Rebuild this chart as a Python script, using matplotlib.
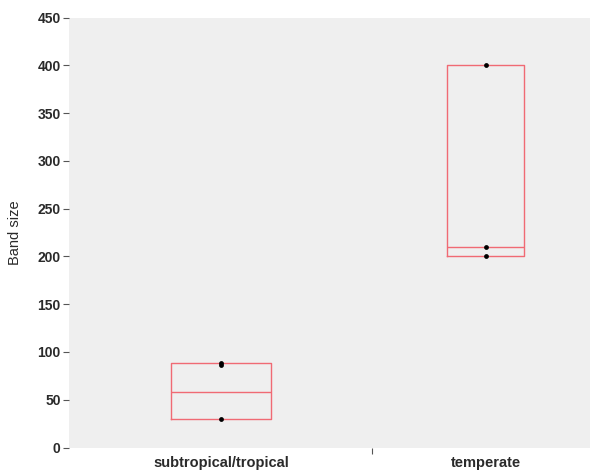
import matplotlib
matplotlib.use('Agg')
import matplotlib.pyplot as plt

plt.rcParams['font.family'] = ['Liberation Sans', 'DejaVu Sans']

categories = ['subtropical/tropical', 'temperate']
box_low = [30, 200]
box_med = [58, 210]
box_high = [88, 400]
points = [[30, 86, 88], [200, 210, 400]]

positions = [1, 2]
widths = [0.378, 0.291]
box_color = '#f06a74'

fig = plt.figure(figsize=(5.9, 4.73), dpi=100)
ax = fig.add_axes([69 / 590, 25.5 / 473, 1 - 69 / 590, 430 / 473])
ax.set_facecolor('#efefef')

stats = []
for name, lo, med, hi in zip(categories, box_low, box_med, box_high):
    stats.append({'label': name, 'whislo': lo, 'q1': lo, 'med': med, 'q3': hi, 'whishi': hi, 'fliers': []})

ax.bxp(stats, positions=positions, widths=widths, showcaps=False, showfliers=False,
       boxprops=dict(color=box_color, linewidth=1.0),
       medianprops=dict(color=box_color, linewidth=1.0),
       whiskerprops=dict(color=box_color, linewidth=1.0))

for pos, vals in zip(positions, points):
    ax.scatter([pos] * len(vals), vals, s=12, color='black', zorder=3, linewidths=0)

ax.set_xlim(0.4253, 2.395)
ax.set_ylim(0, 450)
ax.set_yticks(range(0, 451, 50))
ax.set_xticks(positions)
ax.set_xticklabels(categories, fontsize=10.5, fontweight='bold', color='#2a2a2a')
ax.set_xticks([1.571], minor=True)
ax.tick_params(axis='x', which='major', length=0, pad=6)
ax.tick_params(axis='x', which='minor', length=4, width=0.8, color='#555555')
ax.tick_params(axis='y', length=4, width=0.8, color='#555555', pad=2)
for lab in ax.get_yticklabels():
    lab.set_fontsize(10)
    lab.set_fontweight('bold')
    lab.set_color('#2a2a2a')
for s in ax.spines.values():
    s.set_visible(False)

ax.set_ylabel('Band size', fontsize=10.5, color='#2a2a2a', labelpad=11)

fig.savefig('out.png', dpi=100)
